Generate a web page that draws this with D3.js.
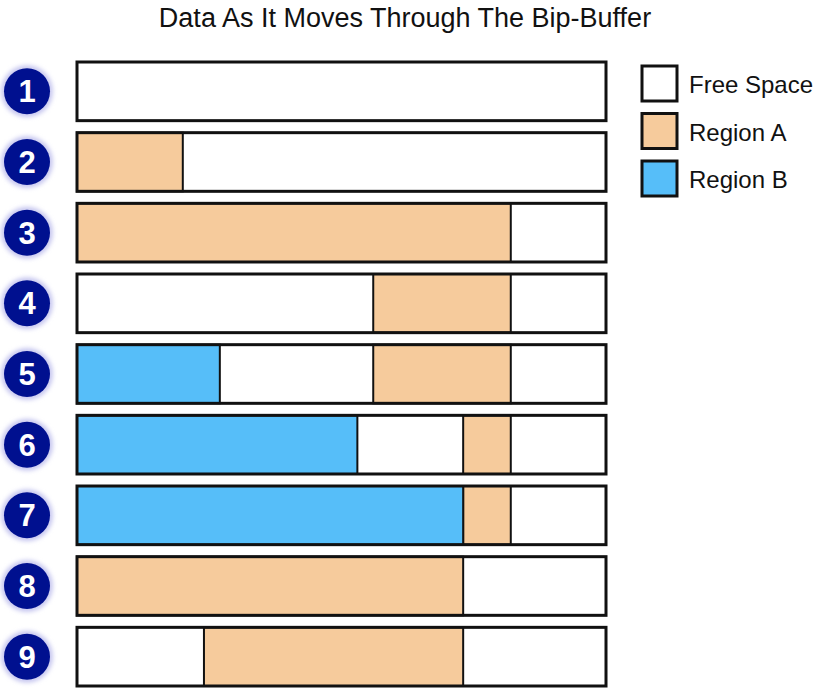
<!DOCTYPE html>
<html><head><meta charset="utf-8">
<script src="https://d3js.org/d3.v7.min.js"></script>
<style>body{margin:0;background:#fff}</style>
</head><body><svg id="chart" width="832" height="688"></svg>
<script>
// buffer states, 0..100 units along the buffer
var steps = [1, 2, 3, 4, 5, 6, 7, 8, 9];
var regionA = [null, [0, 20], [0, 82], [56, 82], [56, 82], [73, 82], [73, 82], [0, 73], [24, 73]];
var regionB = [null, null, null, null, [0, 27], [0, 53], [0, 73], null, null];
var legendLabels = ['Free Space', 'Region A', 'Region B'];
var legendColors = ['#ffffff', '#f6cb9c', '#56bef9'];

var svg = d3.select('#chart');
var x = d3.scaleLinear().domain([0, 100]).range([77, 606]);
var y = d3.scaleBand().domain(steps).range([62, 686]).paddingInner(0.17).paddingOuter(0);

svg.append('text').attr('x', 405).attr('y', 27).attr('text-anchor', 'middle')
  .style('font', '27px "Liberation Sans", Arial, sans-serif').attr('fill', '#111')
  .text('Data As It Moves Through The Bip-Buffer');

var defs = svg.append('defs');
var f = defs.append('filter').attr('id', 'glow').attr('x', '-30%').attr('y', '-30%').attr('width', '160%').attr('height', '160%');
f.append('feGaussianBlur').attr('stdDeviation', 2);

var rows = svg.selectAll('g.row').data(steps).enter().append('g').attr('class', 'row');

rows.append('circle').attr('cx', 27).attr('cy', function(d) { return y(d) + y.bandwidth() / 2; })
  .attr('r', 26).attr('fill', '#c8c8f0').attr('filter', 'url(#glow)');
rows.append('circle').attr('cx', 27).attr('cy', function(d) { return y(d) + y.bandwidth() / 2; })
  .attr('r', 23).attr('fill', '#00108f');
rows.append('text').attr('x', 27).attr('y', function(d) { return y(d) + y.bandwidth() / 2 + 11; })
  .attr('text-anchor', 'middle').attr('fill', '#fff')
  .style('font', 'bold 31px "Liberation Sans", Arial, sans-serif')
  .text(function(d) { return d; });

rows.append('rect').attr('x', x(0)).attr('width', x(100) - x(0))
  .attr('y', function(d) { return y(d); }).attr('height', y.bandwidth())
  .attr('fill', '#fff');

function seg(data, color) {
  rows.filter(function(d, i) { return data[i]; }).append('rect')
    .attr('x', function(d) { return x(data[d - 1][0]); })
    .attr('width', function(d) { return x(data[d - 1][1]) - x(data[d - 1][0]); })
    .attr('y', function(d) { return y(d); }).attr('height', y.bandwidth())
    .attr('fill', color).attr('stroke', '#111').attr('stroke-width', 2);
}
seg(regionA, legendColors[1]);
seg(regionB, legendColors[2]);

rows.append('rect').attr('x', x(0)).attr('width', x(100) - x(0))
  .attr('y', function(d) { return y(d); }).attr('height', y.bandwidth())
  .attr('fill', 'none').attr('stroke', '#111').attr('stroke-width', 3);

var leg = svg.selectAll('g.leg').data(legendLabels).enter().append('g')
  .attr('transform', function(d, i) { return 'translate(642,' + (66 + i * 47.5) + ')'; });
leg.append('rect').attr('width', 35).attr('height', 35)
  .attr('fill', function(d, i) { return legendColors[i]; }).attr('stroke', '#111').attr('stroke-width', 3);
leg.append('text').attr('x', 47).attr('y', 27).attr('fill', '#111')
  .style('font', '24px "Liberation Sans", Arial, sans-serif').text(function(d) { return d; });
</script></body></html>
